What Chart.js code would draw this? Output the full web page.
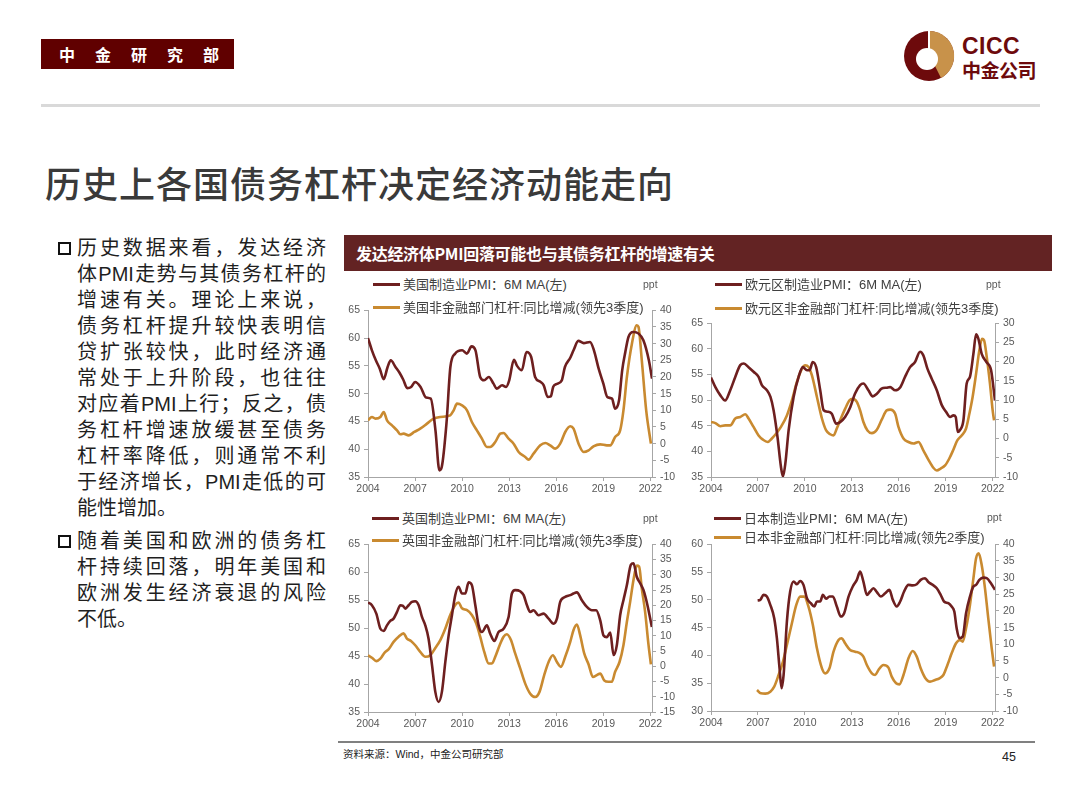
<!DOCTYPE html>
<html>
<head>
<meta charset="utf-8">
<title>历史上各国债务杠杆决定经济动能走向</title>
<script src="https://cdn.jsdelivr.net/npm/chart.js"></script>
<style>
  html, body { margin: 0; padding: 0; background: #fff; }
  body {
    width: 1080px; height: 810px; position: relative; overflow: hidden;
    font-family: "Liberation Sans", "Noto Sans CJK SC", sans-serif;
  }
  .abs { position: absolute; }
  #tag {
    left: 41px; top: 39px; width: 193px; height: 30px; background: #600000; color: #fff;
    font: bold 16px "Noto Sans CJK SC"; line-height: 30px; letter-spacing: 20px; text-indent: 18px;
    white-space: nowrap;
  }
  #topline { left: 41px; top: 104px; width: 999px; height: 3px; background: #d9d9d9; }
  #cicc { left: 962px; top: 33px; color: #6d0a0c; font: bold 23px "Liberation Sans"; letter-spacing: 0.5px; }
  #cicccn { left: 962px; top: 56px; color: #6d0a0c; font: bold 19px "Noto Sans CJK SC"; letter-spacing: -0.5px; }
  #title {
    left: 45px; top: 156px; font: 500 36px "Noto Sans CJK SC"; color: #3a3a3a;
    letter-spacing: 1px; white-space: nowrap;
  }
  .para { left: 77px; width: 249px; font-size: 20px; line-height: 26px; color: #1f1f1f; }
  .para div { text-align: justify; text-align-last: justify; white-space: nowrap; }
  .para div.last { text-align-last: left; }
  .box { width: 9px; height: 9px; border: 2px solid #111; }
  #bar {
    left: 344px; top: 235px; width: 708px; height: 36px; background: #632323; color: #fff;
    font: bold 16px "Noto Sans CJK SC"; line-height: 36px; text-indent: 12px; letter-spacing: -0.3px;
  }
  .panel { position: absolute; }
  .leg {
    position: absolute; font-size: 13px; color: #404040; white-space: nowrap; line-height: 16px;
  }
  .leg i { display: inline-block; width: 27px; height: 3px; vertical-align: middle; margin-right: 3px; margin-top: -2px; }
  .ppt { position: absolute; font-size: 10.5px; color: #595959; }
  #footline { left: 338px; top: 741px; width: 697px; height: 2px; background: #808080; }
  #source { left: 343px; top: 746px; font-size: 10.5px; color: #222; }
  #page { left: 1002px; top: 750px; font-size: 12.5px; color: #222; }
</style>
</head>
<body>
<div id="tag" class="abs">中金研究部</div>
<svg class="abs" style="left:900px;top:27px" width="58" height="58" viewBox="0 0 58 58">
  <circle cx="29" cy="29" r="25" fill="#6d0a0c"/>
  <path d="M30 4 A25 25 0 0 1 41 51 L30 29 Z" fill="#c8924a"/>
  <circle cx="27" cy="32" r="11" fill="#fff"/>
  <rect x="28" y="4" width="2" height="20" fill="#fff"/>
</svg>
<div id="cicc" class="abs">CICC</div>
<div id="cicccn" class="abs">中金公司</div>
<div id="topline" class="abs"></div>
<div id="title" class="abs">历史上各国债务杠杆决定经济动能走向</div>

<div class="abs box" style="left:58px;top:242px"></div>
<div class="abs para" style="top:235px">
  <div>历史数据来看，发达经济</div>
  <div>体PMI走势与其债务杠杆的</div>
  <div>增速有关。理论上来说，</div>
  <div>债务杠杆提升较快表明信</div>
  <div>贷扩张较快，此时经济通</div>
  <div>常处于上升阶段，也往往</div>
  <div>对应着PMI上行；反之，债</div>
  <div>务杠杆增速放缓甚至债务</div>
  <div>杠杆率降低，则通常不利</div>
  <div>于经济增长，PMI走低的可</div>
  <div class="last">能性增加。</div>
</div>
<div class="abs box" style="left:58px;top:535px"></div>
<div class="abs para" style="top:528px">
  <div>随着美国和欧洲的债务杠</div>
  <div>杆持续回落，明年美国和</div>
  <div>欧洲发生经济衰退的风险</div>
  <div class="last">不低。</div>
</div>

<div id="bar" class="abs">发达经济体PMI回落可能也与其债务杠杆的增速有关</div>

<div id="footline" class="abs"></div>
<div id="source" class="abs">资料来源：Wind，中金公司研究部</div>
<div id="page" class="abs">45</div>

<script>
// ---- data: [year, value] ----
const usPmi = [[2004.0,60],[2004.25,57.8],[2004.5,56],[2004.75,54.5],[2005.0,52.6],[2005.25,54.8],[2005.45,56],[2005.75,54.8],[2006.0,53.8],[2006.25,52.5],[2006.5,51],[2006.75,51.2],[2007.0,52.1],[2007.35,51.2],[2007.7,49.3],[2008.0,49.1],[2008.3,43.4],[2008.55,36.2],[2008.7,36.8],[2009.0,44.6],[2009.25,54.8],[2009.55,57.2],[2010.0,57.8],[2010.3,57.2],[2010.6,58.5],[2010.85,57.8],[2011.15,53],[2011.4,52.4],[2011.7,53],[2012.0,51.8],[2012.2,50.9],[2012.55,51.5],[2012.8,51.2],[2013.0,52.4],[2013.3,56.1],[2013.5,55],[2013.8,54.2],[2014.1,57.5],[2014.4,56.6],[2014.65,53],[2015.0,52.1],[2015.2,51.5],[2015.45,49.4],[2015.65,49.5],[2015.8,51.2],[2016.0,51.7],[2016.35,52.4],[2016.55,54.8],[2016.9,56.5],[2017.1,57.8],[2017.4,59.5],[2017.75,59.1],[2018.15,59.3],[2018.4,57.8],[2018.7,54.5],[2019.0,51.8],[2019.25,49.4],[2019.55,49.1],[2019.75,47.3],[2020.0,48.8],[2020.2,54.2],[2020.4,57.5],[2020.6,60.2],[2020.9,61.1],[2021.25,60.8],[2021.55,59.6],[2021.9,56],[2022.1,52.7]];
const usLev = [[2004.0,7],[2004.25,8],[2004.47,7.5],[2004.79,8],[2005.0,9.5],[2005.21,7],[2005.53,5.5],[2005.85,4],[2006.06,2.8],[2006.27,3],[2006.59,2.5],[2006.95,3.5],[2007.33,4.5],[2007.76,6],[2008.18,7.5],[2008.61,8],[2009.24,8.5],[2009.46,10],[2009.67,12],[2009.99,11.5],[2010.31,10],[2010.62,6.5],[2010.94,4],[2011.26,1.5],[2011.58,-1],[2011.79,-1],[2012.11,0.5],[2012.43,3],[2012.64,3.2],[2012.96,1.5],[2013.28,0],[2013.6,-2.5],[2014.02,-4],[2014.23,-4.8],[2014.55,-3],[2014.98,-0.5],[2015.3,0.2],[2015.61,-0.5],[2015.93,-1.5],[2016.25,0],[2016.57,3.5],[2016.89,5.2],[2017.1,4.5],[2017.42,0],[2017.74,-2.5],[2018.06,-2],[2018.37,-0.8],[2018.8,-0.2],[2019.22,-0.5],[2019.44,-0.5],[2019.75,2],[2020.07,4],[2020.28,10],[2020.5,20],[2020.82,30],[2021.13,35.5],[2021.24,35],[2021.45,25],[2021.73,10],[2022.03,0]];

const euPmi = [[2004.0,54.4],[2004.28,52.5],[2004.6,50.9],[2004.9,49.9],[2005.23,51.9],[2005.55,54.5],[2005.87,56.8],[2006.1,57.1],[2006.4,56.4],[2006.72,55.5],[2007.04,54.5],[2007.25,52.9],[2007.57,51.9],[2007.8,50.6],[2008.0,48],[2008.25,42.8],[2008.47,37],[2008.6,35.1],[2008.75,37.6],[2008.96,44.1],[2009.28,50.6],[2009.6,54.5],[2009.87,56.4],[2010.13,55.8],[2010.3,55.8],[2010.5,57.4],[2010.72,56.4],[2010.98,51.9],[2011.2,48],[2011.5,47.7],[2011.72,47.3],[2012.0,45.4],[2012.25,45.7],[2012.57,46.7],[2012.9,48.6],[2013.2,51.2],[2013.53,52.9],[2013.74,53.2],[2014.06,51.9],[2014.34,50.7],[2014.6,51.2],[2014.9,52.2],[2015.23,52.4],[2015.45,52.5],[2015.77,51.9],[2016.1,52.5],[2016.4,54.5],[2016.72,56.4],[2017.04,57.4],[2017.36,59.4],[2017.57,58.7],[2017.83,56.1],[2018.1,54.2],[2018.43,51.9],[2018.75,49],[2019.02,47.7],[2019.28,46.7],[2019.5,47],[2019.64,46.7],[2019.77,43.8],[2019.9,44.1],[2020.13,46],[2020.34,53.2],[2020.55,54.5],[2020.77,59],[2020.94,62.8],[2021.08,62],[2021.3,59],[2021.6,57.4],[2021.9,55.8],[2022.15,49.9]];
const euLev = [[2004.0,4.3],[2004.28,4],[2004.6,3.2],[2004.91,3.4],[2005.23,3.4],[2005.55,5.2],[2005.87,5.6],[2006.19,6.3],[2006.4,5.2],[2006.72,3],[2007.04,0.8],[2007.32,-0.3],[2007.62,-0.9],[2007.89,0],[2008.17,1.3],[2008.47,3],[2008.85,6],[2009.17,9.9],[2009.49,14.7],[2009.81,18.1],[2010.02,19],[2010.23,18.6],[2010.45,16.4],[2010.77,10.8],[2011.09,5.2],[2011.36,2.1],[2011.62,1.1],[2011.83,0.8],[2012.04,2.6],[2012.3,5.2],[2012.57,7.7],[2012.85,9.9],[2013.06,10.3],[2013.32,9.5],[2013.53,7.3],[2013.74,4.3],[2014.0,2.1],[2014.28,1.4],[2014.6,2.3],[2014.91,4.9],[2015.23,7.3],[2015.45,7.5],[2015.77,6.4],[2015.98,3],[2016.3,0],[2016.62,-0.9],[2016.94,-1.3],[2017.26,-0.9],[2017.57,-3.1],[2017.89,-5.5],[2018.21,-7.6],[2018.43,-8.3],[2018.68,-7.8],[2018.96,-7],[2019.23,-5.2],[2019.49,-2.9],[2019.74,-0.5],[2020.02,0.8],[2020.3,2.6],[2020.51,6.4],[2020.72,10.8],[2020.94,16.8],[2021.15,22.9],[2021.32,25.9],[2021.45,25.5],[2021.62,21.2],[2021.83,14.2],[2022.0,7.3],[2022.09,4.7]];

const ukPmi = [[2004.0,54.6],[2004.25,54.1],[2004.53,52.6],[2004.79,49.9],[2005.0,49.5],[2005.21,50.5],[2005.42,51.3],[2005.63,51.7],[2005.85,52.9],[2006.06,54.1],[2006.23,54],[2006.38,53.5],[2006.59,54.1],[2006.8,54.7],[2007.01,54.8],[2007.23,54.1],[2007.44,52],[2007.65,50.5],[2007.86,48.1],[2008.08,43.4],[2008.29,38.6],[2008.5,36.8],[2008.71,38.6],[2008.93,44],[2009.14,48.7],[2009.35,52.3],[2009.56,55.9],[2009.77,57.4],[2009.99,56.2],[2010.2,56.2],[2010.41,58.2],[2010.62,57.7],[2010.84,54.1],[2011.05,50.5],[2011.26,49.3],[2011.58,50.5],[2011.79,49],[2012.05,47.7],[2012.32,49.3],[2012.64,49.9],[2012.96,52],[2013.17,56.2],[2013.38,56.8],[2013.7,56.6],[2013.92,55.9],[2014.13,54.1],[2014.34,52.9],[2014.55,53.2],[2014.87,52.3],[2015.19,52.6],[2015.51,51.7],[2015.83,50.8],[2016.04,51.7],[2016.25,54.7],[2016.57,55.6],[2016.89,55.9],[2017.1,56.2],[2017.31,56.4],[2017.63,55],[2017.95,53.8],[2018.27,53.2],[2018.54,53.2],[2018.8,51.4],[2019.01,48.7],[2019.22,48.4],[2019.44,49.2],[2019.65,45.2],[2019.86,47],[2020.07,52.3],[2020.28,55],[2020.5,57.7],[2020.75,61.3],[2020.92,61.6],[2021.13,59.2],[2021.35,58],[2021.56,56.8],[2021.81,54.1],[2022.09,50.2]];
const ukLev = [[2004.0,3.6],[2004.25,2.8],[2004.53,1.7],[2004.79,2.5],[2005.06,4.5],[2005.32,5.6],[2005.63,8],[2005.95,9.7],[2006.27,10.8],[2006.48,9.1],[2006.74,8.3],[2007.01,6.9],[2007.33,4.7],[2007.65,3.1],[2007.97,3.6],[2008.29,6],[2008.61,8.6],[2008.93,12.4],[2009.24,16.8],[2009.56,20.1],[2009.77,20.9],[2009.99,19],[2010.31,18.4],[2010.62,16.8],[2010.9,14],[2011.15,9.7],[2011.41,4.7],[2011.69,0.9],[2011.9,0.9],[2012.11,3.1],[2012.39,6.9],[2012.64,9.7],[2012.85,10.5],[2013.11,8.6],[2013.38,4.2],[2013.7,-0.7],[2014.02,-5.7],[2014.34,-9],[2014.66,-10.1],[2014.93,-8.4],[2015.23,-2.9],[2015.51,1.4],[2015.78,3.6],[2016.04,1.4],[2016.29,-0.2],[2016.57,3.1],[2016.89,8],[2017.1,11.9],[2017.31,13.7],[2017.52,10.2],[2017.78,4.2],[2018.06,0.6],[2018.33,-3.5],[2018.59,-2.9],[2018.8,-2.4],[2019.05,-4.6],[2019.33,-5.1],[2019.54,-5.1],[2019.75,-1.8],[2020.03,1.4],[2020.28,6.9],[2020.5,14.6],[2020.71,21.2],[2020.92,28.3],[2021.13,33],[2021.28,32.7],[2021.45,25.5],[2021.66,17.9],[2021.88,6.9],[2022.03,0.6]];

const jpPmi = [[2006.98,49.9],[2007.15,50],[2007.36,50.9],[2007.57,50.6],[2007.79,49.1],[2008.04,46.7],[2008.21,43.1],[2008.38,37.7],[2008.51,34.1],[2008.64,36.5],[2008.85,46.1],[2009.06,51.5],[2009.28,53.3],[2009.49,52.8],[2009.7,53.4],[2009.91,52.7],[2010.13,50.3],[2010.38,49.4],[2010.6,48.8],[2010.77,49.7],[2010.98,49.7],[2011.15,50.9],[2011.36,50.2],[2011.57,50.6],[2011.79,50.6],[2012.04,48.8],[2012.3,47],[2012.51,47.6],[2012.79,50.6],[2013.06,52.4],[2013.32,53.6],[2013.53,55.1],[2013.74,53.3],[2013.96,50.9],[2014.17,51.5],[2014.38,52.1],[2014.6,51.4],[2014.85,50.6],[2015.13,51.2],[2015.4,51.8],[2015.62,50],[2015.87,48.8],[2016.09,49.7],[2016.34,51.5],[2016.62,52.7],[2016.89,52.6],[2017.15,52.8],[2017.4,53.6],[2017.68,53.9],[2017.89,53.2],[2018.17,52.7],[2018.43,52.1],[2018.68,50.9],[2018.89,49.7],[2019.17,49.4],[2019.38,48.8],[2019.55,47.9],[2019.7,44.9],[2019.87,43.1],[2020.09,43.4],[2020.3,47.6],[2020.55,50.6],[2020.77,52.4],[2020.94,52.7],[2021.15,53.6],[2021.4,54],[2021.62,53.9],[2021.89,53],[2022.15,51.8]];
const jpLev = [[2006.94,-3.7],[2007.19,-4.7],[2007.47,-4.8],[2007.79,-4.2],[2008.04,-2.7],[2008.32,0.8],[2008.6,4.8],[2008.85,9.8],[2009.17,16.3],[2009.45,21.8],[2009.7,24.3],[2009.96,24.3],[2010.23,21.3],[2010.51,15.8],[2010.77,8.8],[2011.09,2.8],[2011.3,1.3],[2011.57,2.8],[2011.83,7.8],[2012.15,11.3],[2012.36,11.8],[2012.57,10.3],[2012.89,8.3],[2013.21,7.8],[2013.53,7.3],[2013.74,6.3],[2013.96,3.8],[2014.28,1.3],[2014.49,0.8],[2014.7,2.3],[2015.02,3.8],[2015.34,3],[2015.55,0.3],[2015.83,-1.7],[2016.04,-2],[2016.3,0.8],[2016.62,5.8],[2016.89,8],[2017.15,6.3],[2017.4,2.8],[2017.68,0],[2018.0,-1.2],[2018.32,-0.7],[2018.6,-0.2],[2018.85,0.8],[2019.11,3.8],[2019.38,7.3],[2019.66,10.3],[2019.91,11.3],[2020.09,10.8],[2020.3,14.8],[2020.55,21.8],[2020.77,29.8],[2020.94,35.8],[2021.11,37.3],[2021.3,33.8],[2021.51,26.8],[2021.72,17.8],[2021.94,8.8],[2022.09,3.3]];

const usLabels = ['美国制造业PMI：6M MA(左)', '美国非金融部门杠杆:同比增减(领先3季度)'];
const euLabels = ['欧元区制造业PMI：6M MA(左)', '欧元区非金融部门杠杆:同比增减(领先3季度)'];
const ukLabels = ['英国制造业PMI：6M MA(左)', '英国非金融部门杠杆:同比增减(领先3季度)'];
const jpLabels = ['日本制造业PMI：6M MA(左)', '日本非金融部门杠杆:同比增减(领先2季度)'];

const PMI_COLOR = '#6e1f1f';
const LEV_COLOR = '#c98a30';
const AXIS_COLOR = '#a6a6a6';

Chart.defaults.font.family = '"Liberation Sans", Arial, sans-serif';
Chart.defaults.font.size = 10.5;
Chart.defaults.color = '#595959';

function addPanel(p) {
  const wrap = document.createElement('div');
  wrap.className = 'panel';
  wrap.style.left = p.box[0] + 'px';
  wrap.style.top = p.box[1] + 'px';
  wrap.style.width = p.box[2] + 'px';
  wrap.style.height = p.box[3] + 'px';
  const cv = document.createElement('canvas');
  wrap.appendChild(cv);
  document.body.appendChild(wrap);

  // legend
  [PMI_COLOR, LEV_COLOR].forEach((c, i) => {
    const d = document.createElement('div');
    d.className = 'leg';
    d.style.left = p.leg[0] + 'px';
    d.style.top = (p.leg[1 + i] - 8) + 'px';
    d.innerHTML = '<i style="background:' + c + '"></i>' + p.labels[i];
    document.body.appendChild(d);
  });
  const u = document.createElement('div');
  u.className = 'ppt';
  u.style.left = p.ppt[0] + 'px';
  u.style.top = (p.ppt[1] - 7) + 'px';
  u.textContent = 'ppt';
  document.body.appendChild(u);

  const grid = { drawOnChartArea: false, tickLength: 4, color: AXIS_COLOR };
  const border = { color: AXIS_COLOR, width: 1 };
  new Chart(cv, {
    type: 'line',
    data: {
      datasets: [
        { data: p.pmi.map(d => ({ x: d[0], y: d[1] })), yAxisID: 'y',
          borderColor: PMI_COLOR, borderWidth: 2.6, pointRadius: 0,
          cubicInterpolationMode: 'monotone', fill: false },
        { data: p.lev.map(d => ({ x: d[0], y: d[1] })), yAxisID: 'y1',
          borderColor: LEV_COLOR, borderWidth: 2.6, pointRadius: 0,
          cubicInterpolationMode: 'monotone', fill: false }
      ]
    },
    options: {
      responsive: true,
      maintainAspectRatio: false,
      animation: false,
      layout: { padding: { top: p.padTop, left: 0, right: 0, bottom: 0 } },
      plugins: { legend: { display: false }, tooltip: { enabled: false } },
      scales: {
        x: {
          type: 'linear', min: 2004, max: p.xMax,
          ticks: { stepSize: 3, includeBounds: false, autoSkip: false, maxRotation: 0, padding: 2,
                   callback: v => String(v) },
          grid: grid, border: border,
          afterFit: s => { s.height = 23; }
        },
        y: {
          position: 'left', min: p.left[0], max: p.left[1],
          ticks: { stepSize: 5, padding: 4, autoSkip: false },
          grid: grid, border: border,
          afterFit: s => { s.width = 28; }
        },
        y1: {
          position: 'right', min: p.right[0], max: p.right[1],
          ticks: { stepSize: 5, padding: 4, autoSkip: false },
          grid: grid, border: border,
          afterFit: s => { s.width = 28; }
        }
      }
    }
  });
}

addPanel({ box: [340, 300, 340, 200], padTop: 10, xMax: 2022.1, pmi: usPmi, lev: usLev,
  left: [35, 65], right: [-10, 40], labels: usLabels, leg: [373, 285, 308], ppt: [643, 285] });
addPanel({ box: [683, 300, 340, 200], padTop: 23, xMax: 2022.15, pmi: euPmi, lev: euLev,
  left: [35, 65], right: [-10, 30], labels: euLabels, leg: [715, 285, 309], ppt: [986, 285] });
addPanel({ box: [340, 534, 340, 201], padTop: 10, xMax: 2022.1, pmi: ukPmi, lev: ukLev,
  left: [35, 65], right: [-15, 40], labels: ukLabels, leg: [372, 519, 541], ppt: [643, 519] });
addPanel({ box: [683, 534, 340, 200], padTop: 10, xMax: 2022.15, pmi: jpPmi, lev: jpLev,
  left: [30, 60], right: [-10, 40], labels: jpLabels, leg: [714, 519, 538], ppt: [987, 518] });
</script>
</body>
</html>
